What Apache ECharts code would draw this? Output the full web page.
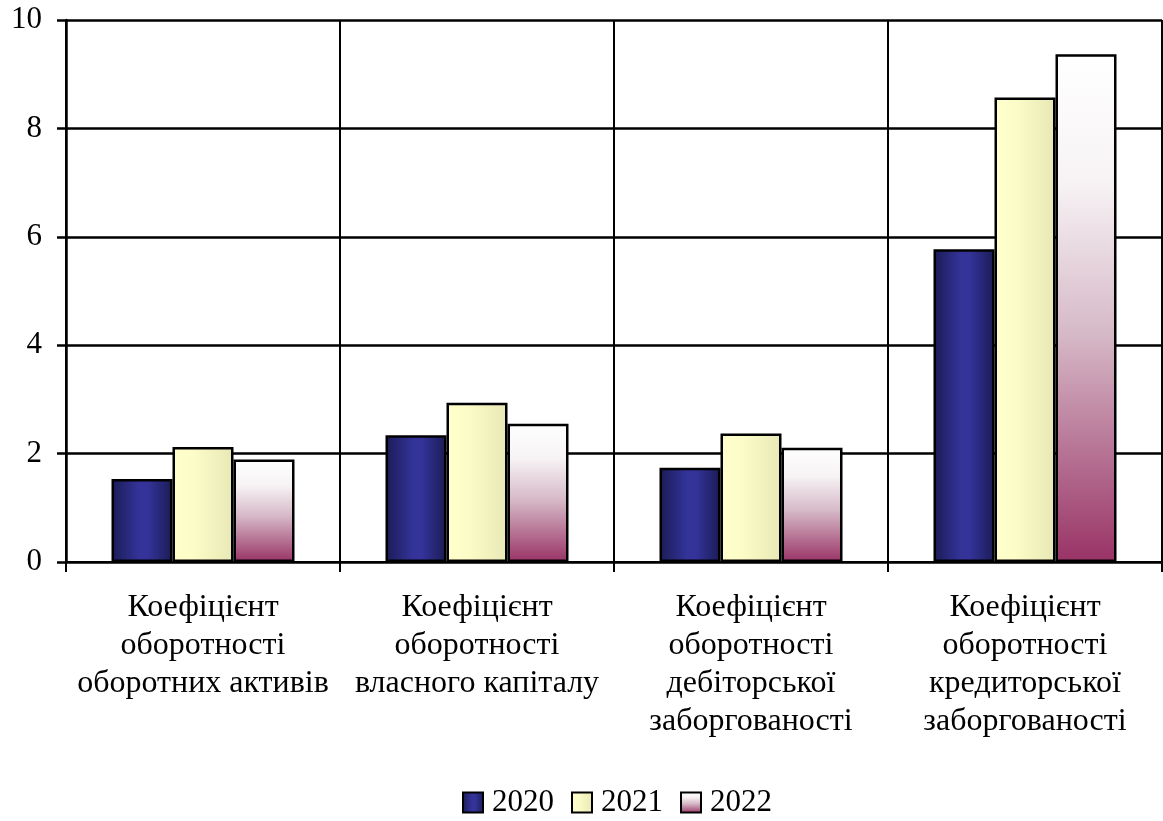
<!DOCTYPE html>
<html>
<head>
<meta charset="utf-8">
<script src="https://cdn.jsdelivr.net/npm/echarts@6/dist/echarts.min.js"></script>
<style>
  html, body { margin: 0; padding: 0; background: #ffffff; }
  #chart { width: 1163px; height: 821px; }
</style>
</head>
<body>
<div id="chart"></div>
<script>
// Turnover ratios by year
const categories = [
  'Коефіцієнт\nоборотності\nоборотних активів',
  'Коефіцієнт\nоборотності\nвласного капіталу',
  'Коефіцієнт\nоборотності\nдебіторської\nзаборгованості',
  'Коефіцієнт\nоборотності\nкредиторської\nзаборгованості'
];
const years = ['2020', '2021', '2022'];
const values2020 = [1.53, 2.34, 1.74, 5.77];
const values2021 = [2.12, 2.94, 2.37, 8.57];
const values2022 = [1.89, 2.55, 2.11, 9.37];
const yTicks = [0, 2, 4, 6, 8, 10];

const FONT = '"Liberation Serif", "DejaVu Serif", serif';

const fill2020 = new echarts.graphic.LinearGradient(0, 0, 1, 0, [
  { offset: 0, color: '#1b1b55' },
  { offset: 0.45, color: '#333399' },
  { offset: 0.6, color: '#333399' },
  { offset: 1, color: '#1b1b55' }
]);
const fill2021 = new echarts.graphic.LinearGradient(0, 0, 1, 0, [
  { offset: 0, color: '#ffffcc' },
  { offset: 0.35, color: '#fcfcc8' },
  { offset: 1, color: '#e8e8b6' }
]);
const fill2022 = new echarts.graphic.LinearGradient(0, 0, 0, 1, [
  { offset: 0, color: '#ffffff' },
  { offset: 0.25, color: '#f7f3f5' },
  { offset: 0.55, color: '#d6b9c7' },
  { offset: 1, color: '#993366' }
]);

const fills = [fill2020, fill2021, fill2022];
const seriesData = [values2020, values2021, values2022];

const chart = echarts.init(document.getElementById('chart'), null, { renderer: 'canvas' });
chart.setOption({
  animation: false,
  backgroundColor: '#ffffff',
  textStyle: { fontFamily: FONT, color: '#000' },
  grid: { left: 66, right: 1, top: 20, bottom: 259, containLabel: false },
  legend: {
    top: 782,
    left: 457,
    itemWidth: 20,
    itemHeight: 20,
    itemGap: 17,
    icon: 'rect',
    textStyle: { fontFamily: FONT, fontSize: 31, color: '#000', padding: [0, 0, 0, 4] },
    itemStyle: { borderColor: '#000', borderWidth: 2 },
    data: years
  },
  xAxis: {
    type: 'category',
    data: categories,
    boundaryGap: true,
    axisLine: { show: true, lineStyle: { color: '#000', width: 2 } },
    axisTick: { show: true, length: 10, lineStyle: { color: '#000', width: 2 } },
    splitLine: { show: true, lineStyle: { color: '#000', width: 2 } },
    axisLabel: {
      interval: 0,
      margin: 27,
      fontFamily: FONT,
      fontSize: 32,
      lineHeight: 38,
      color: '#000'
    }
  },
  yAxis: {
    type: 'value',
    min: yTicks[0],
    max: yTicks[yTicks.length - 1],
    interval: 2,
    axisLine: { show: true, lineStyle: { color: '#000', width: 2.5 } },
    axisTick: { show: true, length: 9, lineStyle: { color: '#000', width: 2.5 } },
    splitLine: { show: true, lineStyle: { color: '#000', width: 2.5 } },
    axisLabel: { fontFamily: FONT, fontSize: 31, color: '#000', margin: 24 }
  },
  series: years.map((y, i) => ({
    name: y,
    type: 'bar',
    data: seriesData[i],
    barWidth: 61,
    barGap: '0%',
    itemStyle: { color: fills[i], borderColor: '#000', borderWidth: 2.5 }
  }))
});
</script>
</body>
</html>
